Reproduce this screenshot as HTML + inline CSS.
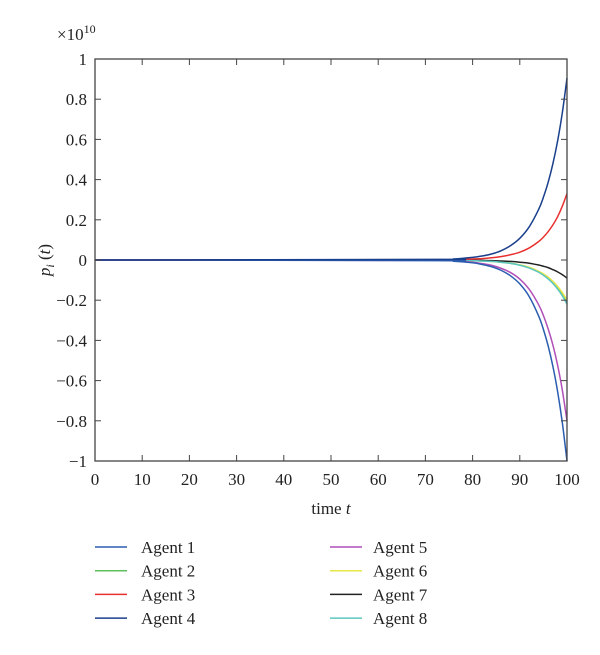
<!DOCTYPE html>
<html><head><meta charset="utf-8"><style>
body{margin:0;background:#fff;font-family:"Liberation Serif",serif;}
svg text{font-family:"Liberation Serif",serif;fill:#222;}
</style></head><body>
<svg id="chart" width="600" height="650" viewBox="0 0 600 650" xmlns="http://www.w3.org/2000/svg">
<g id="plot"></g>
<g id="axes"></g>
<g id="legend"></g>
<text x="57" y="40" font-size="17">×10<tspan dy="-7" font-size="12">10</tspan></text>
<text x="331" y="514" font-size="17" text-anchor="middle">time <tspan font-style="italic">t</tspan></text>
<text transform="translate(50,260) rotate(-90)" font-size="17" text-anchor="middle"><tspan font-style="italic">p</tspan><tspan font-style="italic" font-size="12" dy="4">i</tspan><tspan dy="-4"> (</tspan><tspan font-style="italic">t</tspan>)</text>
</svg>
<script>
const timePoints=[0,72,76,80,82,84,86,88,90,92,94,95,96,97,98,99,100];
const agentNames=["Agent 1","Agent 2","Agent 3","Agent 4","Agent 5","Agent 6","Agent 7","Agent 8"];
const agentColors=["#2a5db0","#5cc15c","#e8302f","#1a3f8c","#b04fb8","#e6e64a","#222222","#5cc6c0"];
const agent1=[0,-0.003,-0.006,-0.014,-0.022,-0.033,-0.051,-0.078,-0.119,-0.182,-0.279,-0.345,-0.427,-0.528,-0.653,-0.808,-1.0];
const agent2=[0,-0.001,-0.001,-0.003,-0.005,-0.007,-0.011,-0.016,-0.025,-0.038,-0.059,-0.072,-0.090,-0.111,-0.137,-0.170,-0.21];
const agent3=[0,0.001,0.002,0.005,0.007,0.011,0.017,0.026,0.039,0.060,0.092,0.114,0.141,0.174,0.215,0.267,0.33];
const agent4=[0,0.003,0.005,0.013,0.020,0.030,0.046,0.071,0.108,0.165,0.252,0.312,0.386,0.478,0.591,0.731,0.905];
const agent5=[0,-0.002,-0.005,-0.011,-0.018,-0.026,-0.041,-0.062,-0.095,-0.146,-0.223,-0.276,-0.342,-0.422,-0.522,-0.646,-0.8];
const agent6=[0,-0.001,-0.001,-0.003,-0.004,-0.007,-0.010,-0.016,-0.024,-0.036,-0.056,-0.069,-0.085,-0.106,-0.131,-0.162,-0.2];
const agent7=[0,0,-0.001,-0.001,-0.002,-0.003,-0.005,-0.007,-0.011,-0.016,-0.025,-0.031,-0.038,-0.048,-0.059,-0.073,-0.09];
const agent8=[0,-0.001,-0.001,-0.003,-0.005,-0.007,-0.011,-0.017,-0.026,-0.040,-0.061,-0.076,-0.094,-0.116,-0.144,-0.178,-0.22];
const xTicks=[0,10,20,30,40,50,60,70,80,90,100];
const yTicks=[1,0.8,0.6,0.4,0.2,0,-0.2,-0.4,-0.6,-0.8,-1];
const yTickLabels=["1","0.8","0.6","0.4","0.2","0","−0.2","−0.4","−0.6","−0.8","−1"];
const series=[agent1,agent2,agent3,agent4,agent5,agent6,agent7,agent8];
const drawOrder=[1,5,6,7,4,2,0,3];

const L=95,R=567,T=59,B=461;
const xs=t=>L+(t-0)/(100-0)*(R-L);
const ys=v=>B-(v+1)/2*(B-T);
const NS="http://www.w3.org/2000/svg";
function mk(tag,attrs,parent){const e=document.createElementNS(NS,tag);for(const k in attrs)e.setAttribute(k,attrs[k]);parent.appendChild(e);return e;}
const plot=document.getElementById('plot'),axes=document.getElementById('axes'),legend=document.getElementById('legend');

function pathFor(vals){
  const p=vals.map((v,i)=>[xs(timePoints[i]),ys(v)]);
  let d="M"+p[0][0]+","+p[0][1];
  for(let i=0;i<p.length-1;i++){
    const p0=p[Math.max(0,i-1)],p1=p[i],p2=p[i+1],p3=p[Math.min(p.length-1,i+2)];
    const c1=[p1[0]+(p2[0]-p0[0])/6,p1[1]+(p2[1]-p0[1])/6];
    const c2=[p2[0]-(p3[0]-p1[0])/6,p2[1]-(p3[1]-p1[1])/6];
    d+=" C"+c1+" "+c2+" "+p2;
  }
  return d;
}
drawOrder.forEach(i=>{
  const e=mk('path',{d:pathFor(series[i]),fill:'none',stroke:agentColors[i],'stroke-width':1.5},plot);
  
  
});
const frame=mk('rect',{x:L,y:T,width:R-L,height:B-T,fill:'none',stroke:'#444','stroke-width':1.3},axes);


xTicks.forEach(t=>{
  const x=xs(t);
  mk('line',{x1:x,x2:x,y1:B,y2:B-6,stroke:'#444'},axes);
  mk('line',{x1:x,x2:x,y1:T,y2:T+6,stroke:'#444'},axes);
  const tx=mk('text',{x:x,y:B+24,'font-size':17,'text-anchor':'middle'},axes);
  tx.textContent=t;
  
  
});
yTicks.forEach((v,i)=>{
  const y=ys(v);
  mk('line',{x1:L,x2:L+6,y1:y,y2:y,stroke:'#444'},axes);
  mk('line',{x1:R,x2:R-6,y1:y,y2:y,stroke:'#444'},axes);
  const tx=mk('text',{x:L-8,y:y+6,'font-size':17,'text-anchor':'end'},axes);
  tx.textContent=yTickLabels[i];
  
  
});
agentNames.forEach((n,i)=>{
  const col=Math.floor(i/4),row=i%4;
  const x0=col?330:95,y=547+row*23.7;
  const g=mk('g',{},legend);
  
  
  mk('line',{x1:x0,x2:x0+32,y1:y,y2:y,stroke:agentColors[i],'stroke-width':1.5},g);
  const tx=mk('text',{x:col?373:141,y:y+6,'font-size':17},g);
  tx.textContent=n;
});
</script>
</body></html>
